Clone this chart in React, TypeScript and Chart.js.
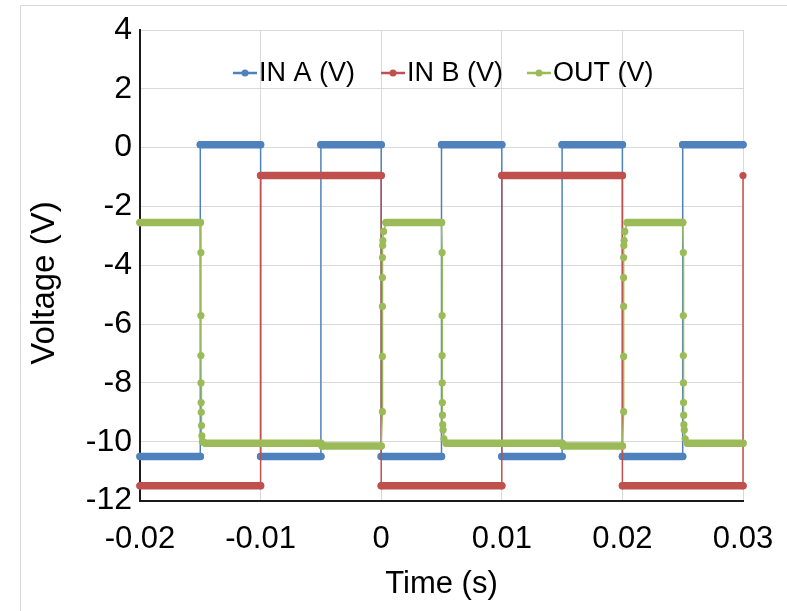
import React, { useEffect, useRef } from "react";
import { Chart, registerables } from "chart.js";

Chart.register(...registerables);

// ---------- data (time in s, voltage in V) ----------
const IN_A_TIME = [-0.02, -0.015, -0.015, -0.01, -0.01, -0.005, -0.005, 0, 0, 0.005, 0.005, 0.01, 0.01, 0.015, 0.015, 0.02, 0.02, 0.025, 0.025, 0.03];
const IN_A_VOLT = [-10.5, -10.5, 0.1, 0.1, -10.5, -10.5, 0.1, 0.1, -10.5, -10.5, 0.1, 0.1, -10.5, -10.5, 0.1, 0.1, -10.5, -10.5, 0.1, 0.1];

const IN_B_TIME = [-0.02, -0.01, -0.01, 0, 0, 0.01, 0.01, 0.02, 0.02, 0.03, 0.03];
const IN_B_VOLT = [-11.5, -11.5, -0.95, -0.95, -11.5, -11.5, -0.95, -0.95, -11.5, -11.5, -0.95];

const OUT_TIME = [
  -0.02, -0.015,
  -0.01495, -0.01495, -0.01495, -0.01494, -0.01493, -0.01492, -0.0149, -0.01487, -0.0148, -0.0146,
  -0.005, -0.0049, 0,
  0.0001, 0.0001, 0.0001, 0.0001, 0.0001, 0.00012, 0.00014, 0.0002, 0.0004,
  0.005,
  0.00505, 0.00505, 0.00505, 0.00506, 0.00507, 0.00508, 0.0051, 0.00513, 0.0052, 0.0054,
  0.015, 0.0151, 0.02,
  0.0201, 0.0201, 0.0201, 0.0201, 0.0201, 0.02012, 0.02014, 0.0202, 0.0204,
  0.025,
  0.02505, 0.02505, 0.02505, 0.02506, 0.02507, 0.02508, 0.0251, 0.02513, 0.0252, 0.0254,
  0.03,
];
const OUT_VOLT = [
  -2.55, -2.55,
  -3.57, -5.71, -7.07, -8.0, -8.67, -9.0, -9.45, -9.8, -10.0, -10.05,
  -10.05, -10.15, -10.15,
  -8.98, -7.1, -5.4, -4.42, -3.74, -3.33, -3.16, -2.85, -2.55,
  -2.55,
  -3.57, -5.71, -7.07, -8.0, -8.67, -9.1, -9.42, -9.6, -9.9, -10.05,
  -10.05, -10.15, -10.15,
  -8.98, -7.1, -5.4, -4.42, -3.74, -3.33, -3.16, -2.85, -2.55,
  -2.55,
  -3.57, -5.71, -7.07, -8.0, -8.67, -9.1, -9.42, -9.6, -9.9, -10.05,
  -10.05,
];

const SERIES_NAMES = ["IN A (V)", "IN B (V)", "OUT (V)"];
const SERIES_COLORS = ["#4F81BD", "#C0504D", "#9BBB59"];

const X_TICKS = [-0.02, -0.01, 0, 0.01, 0.02, 0.03];
const X_TICK_LABELS = ["-0.02", "-0.01", "0", "0.01", "0.02", "0.03"];
const Y_TICKS = [-12, -10, -8, -6, -4, -2, 0, 2, 4];
const Y_TICK_LABELS = ["-12", "-10", "-8", "-6", "-4", "-2", "0", "2", "4"];

const X_TITLE = "Time (s)";
const Y_TITLE = "Voltage (V)";

const FONT = "'Liberation Sans', Arial, Helvetica, sans-serif";
const W = 787;
const H = 611;

function toPoints(t: number[], v: number[]) {
  return t.map((x, i) => ({ x, y: v[i] }));
}

const decorPlugin = {
  id: "decor",
  beforeDraw(chart: any) {
    const ctx = chart.ctx;
    ctx.save();
    ctx.fillStyle = "#ffffff";
    ctx.fillRect(0, 0, W, H);
    ctx.strokeStyle = "#d9d9d9";
    ctx.lineWidth = 1;
    ctx.beginPath();
    ctx.moveTo(20.5, H);
    ctx.lineTo(20.5, 5.5);
    ctx.lineTo(W, 5.5);
    ctx.stroke();
    ctx.restore();
  },
  afterDraw(chart: any) {
    const ctx = chart.ctx;
    const area = chart.chartArea;
    ctx.save();
    // legend
    ctx.font = `27px ${FONT}`;
    ctx.textBaseline = "middle";
    ctx.textAlign = "left";
    const legendX = [233, 381, 527];
    const ly = 73;
    SERIES_NAMES.forEach((name, i) => {
      const x0 = legendX[i];
      ctx.strokeStyle = SERIES_COLORS[i];
      ctx.lineWidth = 2.5;
      ctx.beginPath();
      ctx.moveTo(x0, ly);
      ctx.lineTo(x0 + 24, ly);
      ctx.stroke();
      ctx.fillStyle = SERIES_COLORS[i];
      ctx.beginPath();
      ctx.arc(x0 + 12, ly, 3.5, 0, Math.PI * 2);
      ctx.fill();
      ctx.fillStyle = "#000000";
      ctx.fillText(name, x0 + 26, ly + 1);
    });
    // axis titles
    ctx.fillStyle = "#000000";
    ctx.textAlign = "center";
    ctx.textBaseline = "middle";
    ctx.font = `31px ${FONT}`;
    ctx.fillText(X_TITLE, (area.left + area.right) / 2, 584);
    ctx.font = `33px ${FONT}`;
    ctx.translate(45, 283);
    ctx.rotate(-Math.PI / 2);
    ctx.fillText(Y_TITLE, 0, 0);
    ctx.restore();
  },
};

export default function App() {
  const ref = useRef<HTMLCanvasElement | null>(null);

  useEffect(() => {
    if (!ref.current) return;
    const thick = (c: any) =>
      Math.abs(c.p1.y - c.p0.y) < Math.abs(c.p1.x - c.p0.x) ? 7.5 : 1.5;
    const mk = (i: number, t: number[], v: number[], order: number) => ({
      label: SERIES_NAMES[i],
      data: toPoints(t, v),
      showLine: true,
      borderColor: SERIES_COLORS[i],
      backgroundColor: SERIES_COLORS[i],
      pointBackgroundColor: SERIES_COLORS[i],
      pointBorderWidth: 0,
      pointRadius: 3.6,
      borderWidth: 1.5,
      borderCapStyle: "round",
      borderJoinStyle: "round",
      clip: 8,
      order,
      segment: { borderWidth: thick },
    });
    const chart = new Chart(ref.current, {
      type: "scatter",
      data: {
        datasets: [
          mk(0, IN_A_TIME, IN_A_VOLT, 3),
          mk(1, IN_B_TIME, IN_B_VOLT, 2),
          mk(2, OUT_TIME, OUT_VOLT, 1),
        ] as any,
      },
      options: {
        animation: false,
        responsive: false,
        maintainAspectRatio: false,
        layout: { padding: { top: 30, right: 44, left: 0, bottom: 0 } },
        plugins: {
          legend: { display: false },
          tooltip: { enabled: false },
        },
        scales: {
          x: {
            type: "linear",
            min: -0.02,
            max: 0.03,
            afterBuildTicks: (s: any) => {
              s.ticks = X_TICKS.map((value) => ({ value }));
            },
            afterFit: (s: any) => {
              s.height = 110.5;
              s.paddingLeft = 0;
              s.paddingRight = 0;
            },
            ticks: {
              callback: (_v: any, i: number) => X_TICK_LABELS[i],
              font: { family: FONT, size: 31 },
              color: "#000000",
              padding: 20,
              maxRotation: 0,
              autoSkip: false,
            },
            grid: { color: "#d9d9d9", lineWidth: 1, drawTicks: false },
            border: { color: "#1a1a1a", width: 2 },
          },
          y: {
            type: "linear",
            min: -12,
            max: 4,
            afterBuildTicks: (s: any) => {
              s.ticks = Y_TICKS.map((value) => ({ value }));
            },
            afterFit: (s: any) => {
              s.width = 140;
            },
            ticks: {
              callback: (_v: any, i: number) => Y_TICK_LABELS[i],
              font: { family: FONT, size: 32 },
              color: "#000000",
              padding: 8,
              autoSkip: false,
            },
            grid: { color: "#d9d9d9", lineWidth: 1, drawTicks: false },
            border: { color: "#1a1a1a", width: 2 },
          },
        },
      } as any,
      plugins: [decorPlugin],
    });
    return () => chart.destroy();
  }, []);

  return (
    <div style={{ position: "fixed", left: 0, top: 0, width: W, height: H, background: "#fff" }}>
      <canvas ref={ref} width={W} height={H} style={{ display: "block", width: W, height: H }} />
    </div>
  );
}
